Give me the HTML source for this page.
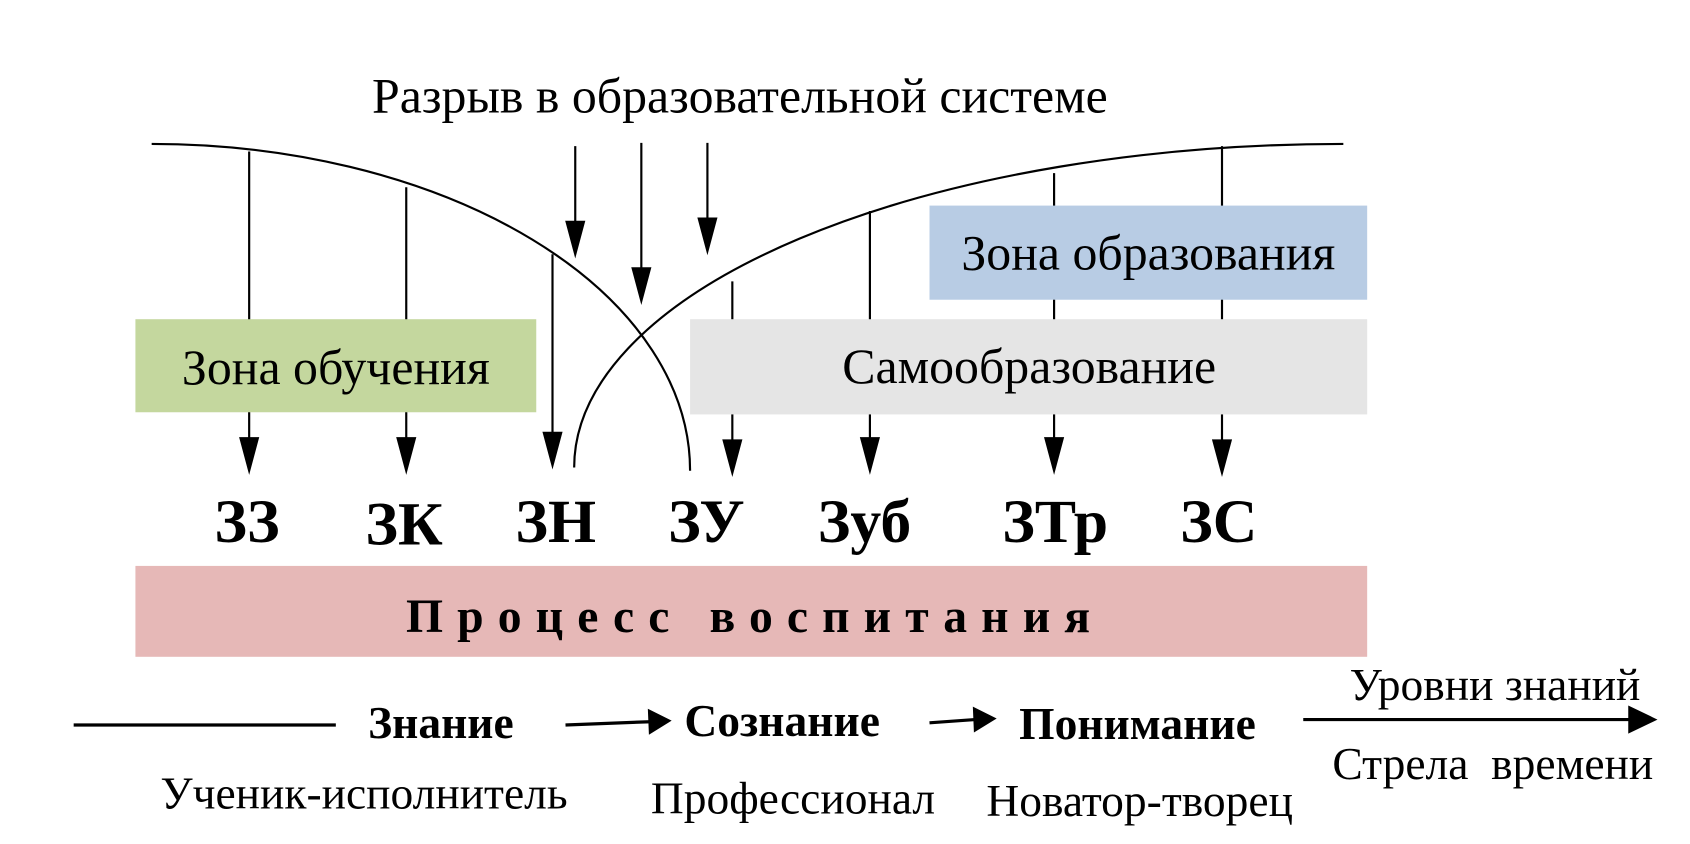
<!DOCTYPE html>
<html><head><meta charset="utf-8"><style>html,body{margin:0;padding:0;background:#fff;width:1690px;height:844px;overflow:hidden}svg{display:block}</style></head>
<body>
<svg width="1690" height="844" viewBox="0 0 1560 780" preserveAspectRatio="none" xmlns="http://www.w3.org/2000/svg" font-family="'Liberation Serif', serif">
<g stroke="#000" stroke-width="2" fill="none">
<path d="M140,133 A497,302 0 0 1 637,435"/>
<path d="M530,432 A710,299 0 0 1 1240,133"/>
</g>
<g stroke="#000" stroke-width="2">
<line x1="230" y1="140" x2="230" y2="405"/><path d="M222,405 L238,405 L230,435z"/>
<line x1="375" y1="173" x2="375" y2="405"/><path d="M367,405 L383,405 L375,435z"/>
<line x1="510" y1="235" x2="510" y2="400"/><path d="M502,400 L518,400 L510,430z"/>
<line x1="676" y1="260" x2="676" y2="407"/><path d="M668,407 L684,407 L676,437z"/>
<line x1="803" y1="195" x2="803" y2="405"/><path d="M795,405 L811,405 L803,435z"/>
<line x1="973" y1="160" x2="973" y2="405"/><path d="M965,405 L981,405 L973,435z"/>
<line x1="1128" y1="135" x2="1128" y2="407"/><path d="M1120,407 L1136,407 L1128,437z"/>
<line x1="531" y1="135" x2="531" y2="205"/><path d="M523,205 L539,205 L531,235z"/>
<line x1="592" y1="132" x2="592" y2="248"/><path d="M584,248 L600,248 L592,278z"/>
<line x1="653" y1="132" x2="653" y2="202"/><path d="M645,202 L661,202 L653,232z"/>
</g>
<rect x="125" y="295" width="370" height="86" fill="#c4d79e"/>
<rect x="637" y="295" width="625" height="88" fill="#e5e5e5"/>
<rect x="858" y="190" width="404" height="87" fill="#b8cce4"/>
<rect x="125" y="523" width="1137" height="84" fill="#e6b8b7"/>
<g font-size="46" text-anchor="middle" fill="#000">
<text x="683" y="104">Разрыв в образовательной системе</text>
<text x="310" y="355">Зона обучения</text>
<text x="950" y="354">Самообразование</text>
<text x="1060" y="249">Зона образования</text>
</g>
<g font-size="57" font-weight="bold" text-anchor="middle">
<text x="228" y="501">ЗЗ</text><text x="373" y="503">ЗК</text><text x="513" y="501">ЗН</text><text x="652" y="501">ЗУ</text><text x="798" y="501">Зуб</text><text x="974" y="501">ЗТр</text><text x="1125" y="501">ЗС</text>
</g>
<text x="697" y="584" font-size="44" font-weight="bold" text-anchor="middle" letter-spacing="13">Процесс  воспитания</text>
<g stroke="#000" stroke-width="3">
<line x1="68" y1="670" x2="310" y2="670"/>
<line x1="522" y1="670" x2="600" y2="667"/>
<line x1="858" y1="668" x2="900" y2="665"/>
<line x1="1203" y1="665" x2="1505" y2="665"/>
</g>
<path d="M598,655 L620,666 L599,679z M898,653 L920,664 L899,677z M1503,652 L1530,665 L1503,678z" fill="#000"/>
<g font-size="42" text-anchor="middle">
<text x="407" y="682" font-weight="bold">Знание</text>
<text x="722" y="680" font-weight="bold">Сознание</text>
<text x="1050" y="683" font-weight="bold">Понимание</text>
<text x="1380" y="647">Уровни знаний</text>
<text x="1378" y="720" xml:space="preserve">Стрела  времени</text>
<text x="336" y="747">Ученик-исполнитель</text>
<text x="732" y="752">Профессионал</text>
<text x="1052" y="754">Новатор-творец</text>
</g>
</svg>
</body></html>
